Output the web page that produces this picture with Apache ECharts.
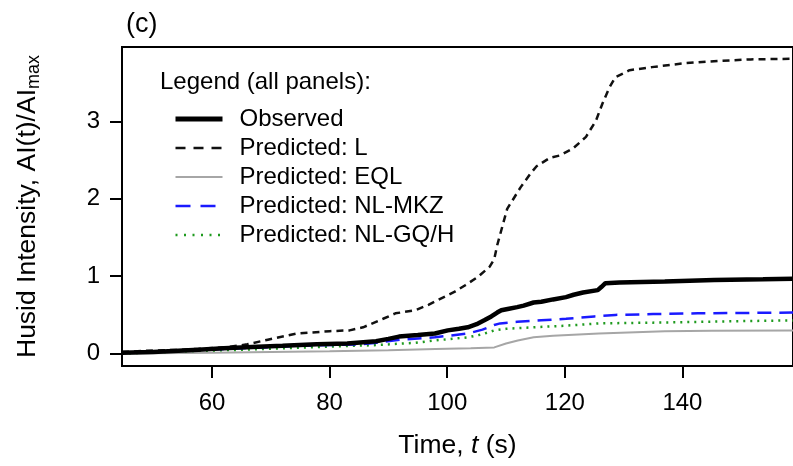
<!DOCTYPE html>
<html>
<head>
<meta charset="utf-8">
<script src="https://cdn.jsdelivr.net/npm/echarts@6/dist/echarts.min.js"></script>
<style>html,body{margin:0;padding:0;background:#fff;}#c{width:793px;height:466px;}</style>
</head>
<body>
<div id="c"></div>
<script>
// Data: [time (s), AI(t)/AI_max]
var observed = [[44.7,0.01],[50,0.02],[57.7,0.05],[62,0.07],[67.8,0.09],[72,0.10],[77.8,0.12],[83,0.13],[87.9,0.16],[90,0.19],[91.8,0.22],[95,0.24],[97.9,0.26],[100.1,0.30],[102,0.32],[103.5,0.34],[105,0.38],[106.3,0.43],[107.5,0.48],[108.5,0.53],[109.2,0.56],[110.5,0.58],[111.9,0.60],[113,0.62],[114.7,0.66],[116,0.67],[118,0.70],[120.2,0.73],[121.5,0.76],[123.1,0.79],[125.6,0.82],[126.2,0.86],[126.9,0.91],[129.3,0.92],[137,0.93],[145.4,0.95],[153.7,0.96],[160,0.97]];
var predL = [[44.7,0.02],[50,0.04],[55,0.05],[59.4,0.07],[62.8,0.085],[66,0.12],[69.5,0.18],[74.5,0.26],[80,0.29],[83.4,0.30],[85.7,0.34],[89.1,0.45],[91.2,0.52],[94.6,0.56],[96.8,0.63],[101.3,0.80],[103,0.88],[105.2,0.99],[107.2,1.12],[108,1.22],[108.5,1.40],[110.2,1.87],[112.5,2.15],[114.2,2.33],[115.2,2.42],[117.5,2.53],[119.2,2.56],[121.4,2.65],[123.6,2.80],[125.3,3.01],[126.4,3.23],[127.6,3.44],[128.6,3.57],[131,3.66],[134.8,3.70],[140.3,3.75],[146,3.78],[151.6,3.80],[160,3.81]];
var predEQL = [[44.7,0.0],[60,0.01],[70,0.02],[80,0.03],[90,0.045],[98,0.06],[104,0.07],[108,0.08],[110,0.13],[112,0.17],[114.7,0.21],[118,0.23],[125.8,0.26],[137,0.29],[145,0.295],[160,0.30]];
var predMKZ = [[44.7,0.01],[55,0.04],[65,0.07],[75,0.10],[80,0.11],[85,0.12],[88,0.14],[92,0.18],[97.9,0.21],[103.5,0.26],[106,0.31],[108,0.37],[109,0.39],[111.9,0.41],[116,0.43],[120.2,0.45],[125,0.48],[128.6,0.50],[135,0.51],[142.6,0.52],[150,0.525],[160,0.53]];
var predGQH = [[44.7,0.0],[55,0.03],[65,0.05],[77.8,0.085],[87.9,0.11],[94.6,0.14],[97.9,0.17],[103.5,0.21],[106,0.25],[108,0.30],[110,0.32],[114.7,0.34],[120,0.36],[125.8,0.39],[135,0.40],[142.6,0.41],[150,0.42],[160,0.43]];
var xTicks = [60, 80, 100, 120, 140];
var yTicks = [0, 1, 2, 3];
var seriesNames = ['Observed', 'Predicted: L', 'Predicted: EQL', 'Predicted: NL-MKZ', 'Predicted: NL-GQ/H'];

var FONT = "'Liberation Sans', Arial, sans-serif";
var chart = echarts.init(document.getElementById('c'), null, {renderer: 'canvas'});

function mk(name, data, color, width, type, z) {
  return {
    name: name, type: 'line', data: data, symbol: 'none', smooth: false,
    lineStyle: {color: color, width: width, type: type},
    itemStyle: {color: color}, z: z, animation: false, clip: true
  };
}

chart.setOption({
  animation: false,
  backgroundColor: '#fff',
  title: [{
    text: '(c)', left: 121, top: 6,
    textStyle: {fontFamily: FONT, fontSize: 27, fontWeight: 'normal', color: '#000'}
  }],
  graphic: [{
    type: 'text', left: 160, top: 70,
    style: {text: 'Legend (all panels):', fontFamily: FONT, fontSize: 24, fill: '#000'}
  }],
  legend: {
    orient: 'vertical', left: 168, top: 101,
    itemWidth: 47, itemHeight: 14, itemGap: 3,
    data: [
      {name: seriesNames[0], lineStyle: {width: 5, type: 'solid'}},
      {name: seriesNames[1], lineStyle: {width: 2.5, type: [10, 8]}},
      {name: seriesNames[2], lineStyle: {width: 2, type: 'solid'}},
      {name: seriesNames[3], lineStyle: {width: 2.5, type: [15, 10]}},
      {name: seriesNames[4], lineStyle: {width: 2.5, type: [2, 6.5]}}
    ],
    itemStyle: {opacity: 0},
    textStyle: {fontFamily: FONT, fontSize: 24, color: '#000', lineHeight: 26, padding: [0, 0, 0, 12]},
    selectedMode: false
  },
  grid: {
    left: 122, top: 47, right: -10, bottom: 100,
    show: true, borderColor: '#000', borderWidth: 2, backgroundColor: 'transparent'
  },
  xAxis: {
    type: 'value', min: 44.7, max: 158.8,
    name: 'Time, {it|t} (s)', nameLocation: 'middle', nameGap: 66,
    nameTextStyle: {fontFamily: FONT, fontSize: 26.5, color: '#000',
      rich: {it: {fontFamily: FONT, fontSize: 26.5, fontStyle: 'italic', color: '#000'}}},
    axisLine: {show: false, onZero: false},
    axisTick: {show: true, inside: false, length: 12, lineStyle: {color: '#000', width: 2}, customValues: xTicks},
    axisLabel: {fontFamily: FONT, fontSize: 24, color: '#000', margin: 25, customValues: xTicks},
    splitLine: {show: false}
  },
  yAxis: {
    type: 'value', min: -0.16, max: 3.96,
    name: 'Husid Intensity, AI(t)/AI{sub|max}', nameLocation: 'middle', nameGap: 79, nameRotate: 90,
    nameTextStyle: {fontFamily: FONT, fontSize: 26.5, color: '#000',
      rich: {sub: {fontFamily: FONT, fontSize: 18, color: '#000', padding: [13, 0, 0, 0]}}},
    axisLine: {show: false, onZero: false},
    axisTick: {show: true, inside: false, length: 12, lineStyle: {color: '#000', width: 2}, customValues: yTicks},
    axisLabel: {fontFamily: FONT, fontSize: 24, color: '#000', margin: 22, customValues: yTicks},
    splitLine: {show: false}
  },
  series: [
    mk(seriesNames[2], predEQL, '#a6a6a6', 2, 'solid', 2),
    mk(seriesNames[4], predGQH, '#1e9a1e', 2.5, [2, 5], 3),
    mk(seriesNames[3], predMKZ, '#1a1aff', 2.5, [14, 8], 4),
    mk(seriesNames[1], predL, '#111', 2.5, [7, 5], 5),
    mk(seriesNames[0], observed, '#000', 4.5, 'solid', 6)
  ]
});
</script>
</body>
</html>
